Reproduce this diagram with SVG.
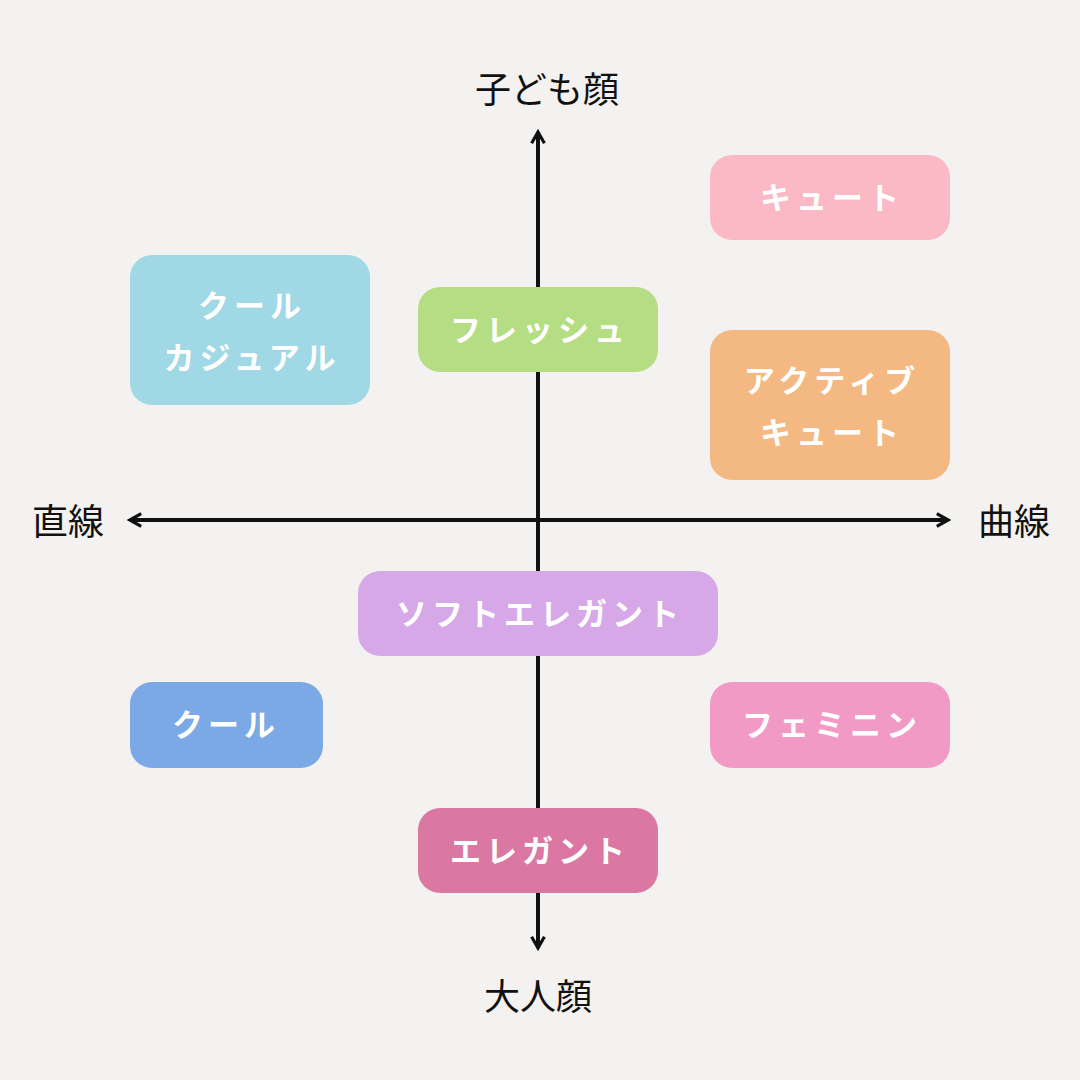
<svg xmlns="http://www.w3.org/2000/svg" width="1080" height="1080" viewBox="0 0 1080 1080">
<style>
.ax{font-family:"Noto Sans CJK JP",sans-serif;font-size:36px;fill:#111;text-anchor:middle}
.t{font-family:"Noto Sans CJK JP",sans-serif;font-size:31px;font-weight:bold;fill:#fff;text-anchor:middle;letter-spacing:5px}
.ln{stroke:#111;stroke-width:4;fill:none}
</style>
<defs><marker id="a" viewBox="0 0 10 10" refX="8" refY="5" markerWidth="4" markerHeight="4" orient="auto-start-reverse"><path d="M1,1 L8,5 L1,9" fill="none" stroke="#111" stroke-width="2"/></marker></defs>
<rect width="1080" height="1080" fill="#f4f2f0"/>
<g id="connectors">
<line class="ln" x1="538" y1="132" x2="538" y2="948" marker-start="url(#a)" marker-end="url(#a)"/>
<line class="ln" x1="130" y1="520" x2="948" y2="520" marker-start="url(#a)" marker-end="url(#a)"/>
</g>
<text class="ax" x="547" y="103">子ども顔</text>
<text class="ax" x="538" y="1010">大人顔</text>
<text class="ax" x="68" y="535">直線</text>
<text class="ax" x="1014" y="535">曲線</text>
<g id="cute"><rect x="710" y="155" width="240" height="85" rx="22" fill="#fbb8c5"/><text class="t" x="832" y="209">キュート</text></g>
<g id="coolcasual"><rect x="130" y="255" width="240" height="150" rx="22" fill="#a0d8e5"/><text class="t" x="252" y="317">クール</text><text class="t" x="252" y="369">カジュアル</text></g>
<g id="fresh"><rect x="418" y="287" width="240" height="85" rx="22" fill="#b5dd84"/><text class="t" x="540" y="341">フレッシュ</text></g>
<g id="activecute"><rect x="710" y="330" width="240" height="150" rx="22" fill="#f4b882"/><text class="t" x="832" y="392">アクティブ</text><text class="t" x="832" y="444">キュート</text></g>
<g id="softelegant"><rect x="358" y="571" width="360" height="85" rx="22" fill="#d6a8e8"/><text class="t" x="540" y="625">ソフトエレガント</text></g>
<g id="cool"><rect x="130" y="682" width="193" height="86" rx="22" fill="#7ba9e5"/><text class="t" x="226" y="736">クール</text></g>
<g id="feminine"><rect x="710" y="682" width="240" height="86" rx="22" fill="#f29ac6"/><text class="t" x="832" y="736">フェミニン</text></g>
<g id="elegant"><rect x="418" y="808" width="240" height="85" rx="22" fill="#db77a3"/><text class="t" x="540" y="862">エレガント</text></g>
</svg>
